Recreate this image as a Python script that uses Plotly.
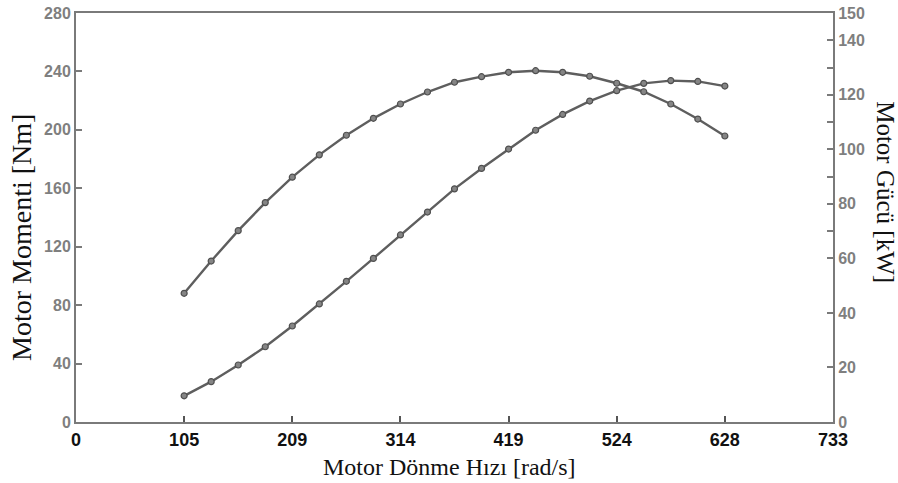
import plotly.graph_objects as go

# Motor speed (rad/s): 250 rpm steps from 1000 to 6000 rpm
speed = [104.72, 130.90, 157.08, 183.26, 209.44, 235.62, 261.80, 287.98, 314.16,
         340.34, 366.52, 392.70, 418.88, 445.06, 471.24, 497.42, 523.60, 549.78,
         575.96, 602.14, 628.32]
torque_nm = [88.1, 110.2, 131.0, 150.2, 167.6, 182.9, 196.3, 207.9, 217.7, 225.9,
             232.6, 236.4, 239.4, 240.5, 239.4, 236.7, 231.9, 226.1, 217.7, 207.4, 195.8]
power_kw = [9.6, 14.8, 20.9, 27.6, 35.2, 43.3, 51.6, 60.0, 68.6, 77.0, 85.5, 93.0,
            100.1, 107.0, 112.8, 117.7, 121.5, 124.2, 125.2, 124.9, 123.2]

x_tickvals = [0, 104.72, 209.44, 314.16, 418.88, 523.60, 628.32, 733.04]
x_ticktext = ["0", "105", "209", "314", "419", "524", "628", "733"]
y1_tickvals = [0, 40, 80, 120, 160, 200, 240, 280]
y2_tickvals = [0, 20, 40, 60, 70, 80, 90, 100, 110, 120, 130, 140, 150]
y2_ticktext = ["0", "20", "40", "60", "", "80", "", "100", "", "120", "", "140", "150"]

line_col = "#5e5e5e"
axis_col = "#7a7a7a"
mk = dict(symbol="circle", size=6, color="#858585", line=dict(color="#4f4f4f", width=1.2))

fig = go.Figure()
fig.add_trace(go.Scatter(x=speed, y=torque_nm, mode="lines+markers",
                         line=dict(color=line_col, width=2.4), marker=mk,
                         showlegend=False, yaxis="y"))
fig.add_trace(go.Scatter(x=speed, y=power_kw, mode="lines+markers",
                         line=dict(color=line_col, width=2.4), marker=mk,
                         showlegend=False, yaxis="y2"))

fig.update_layout(
    width=898, height=483,
    margin=dict(l=76, r=65, t=13, b=61),
    paper_bgcolor="white", plot_bgcolor="white",
    xaxis=dict(range=[0, 733.04], tickvals=x_tickvals, ticktext=x_ticktext,
               automargin=False,
               showgrid=False, zeroline=False, showline=True, linecolor=axis_col,
               linewidth=2, mirror=True, ticks="inside", ticklen=6, tickcolor="#555",
               tickwidth=1.5,
               tickfont=dict(family="Liberation Sans Narrow, Liberation Sans", size=18,
                             color="#111", weight="bold")),
    yaxis=dict(range=[0, 280], tickvals=y1_tickvals, showgrid=False, zeroline=False,
               automargin=False,
               showline=True, linecolor=axis_col, linewidth=2, ticks="inside",
               ticklen=6, tickcolor=axis_col, tickwidth=1.5,
               tickfont=dict(family="Liberation Sans", size=16, color="#7f7f7f",
                             weight="bold")),
    yaxis2=dict(range=[0, 150], tickvals=y2_tickvals, ticktext=y2_ticktext,
                automargin=False,
                overlaying="y", side="right", showgrid=False, zeroline=False,
                showline=True, linecolor=axis_col, linewidth=2, ticks="inside",
                ticklen=6, tickcolor=axis_col, tickwidth=1.5,
                tickfont=dict(family="Liberation Sans", size=16, color="#7f7f7f",
                              weight="bold")),
    annotations=[
        dict(text="Motor Momenti [Nm]", xref="paper", yref="paper", x=-0.0713, y=0.45,
             xanchor="center", yanchor="middle",
             textangle=-90, showarrow=False,
             font=dict(family="Liberation Serif", size=28, color="#111")),
        dict(text="Motor Gücü [kW]", xref="paper", yref="paper", x=1.070, y=0.562,
             xanchor="center", yanchor="middle",
             textangle=90, showarrow=False,
             font=dict(family="Liberation Serif", size=25, color="#111")),
        dict(text="Motor Dönme Hızı [rad/s]", xref="paper", yref="paper", x=0.494,
             y=-0.110, xanchor="center", yanchor="middle", showarrow=False,
             font=dict(family="Liberation Serif", size=24, color="#111")),
    ],
)

fig.write_html("out.html")
